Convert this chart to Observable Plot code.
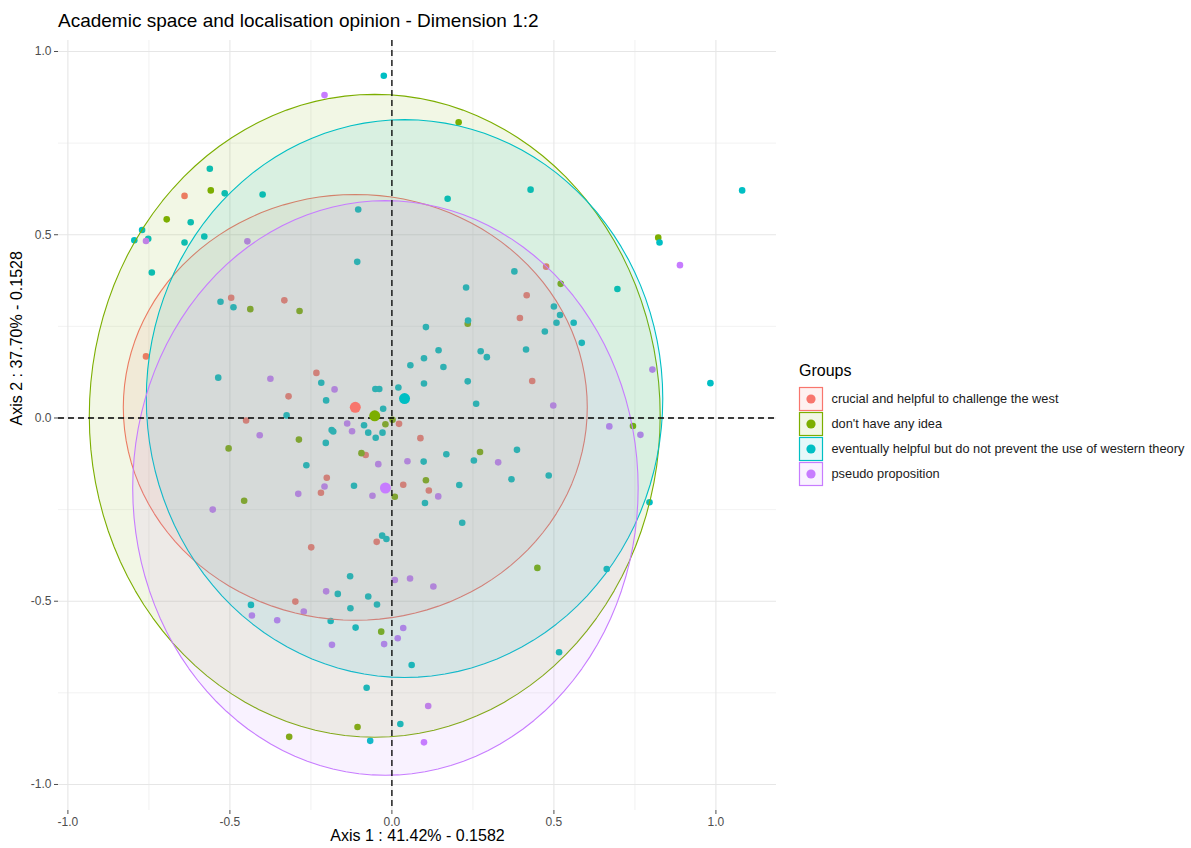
<!DOCTYPE html>
<html>
<head>
<meta charset="utf-8">
<script src="https://cdn.jsdelivr.net/npm/d3@7"></script>
<script src="https://cdn.jsdelivr.net/npm/@observablehq/plot@0.6"></script>
<style>
  html, body { margin: 0; padding: 0; background: #fff; }
  #wrap { position: relative; width: 1191px; height: 848px; overflow: hidden; font-family: "Liberation Sans", Arial, sans-serif; }
  #title { position: absolute; left: 58px; top: 10px; font-size: 19px; color: #000; white-space: nowrap; }
  #chart { position: absolute; left: 0; top: 34px; }
  #legend { position: absolute; left: 790px; top: 350px; }
</style>
</head>
<body>
<div id="wrap">
  <div id="title">Academic space and localisation opinion - Dimension 1:2</div>
  <div id="chart"></div>
  <div id="legend"></div>
</div>
<script>
// ---- data ----
const groups = [
  "crucial and helpful to challenge the west",
  "don't have any idea",
  "eventually helpful but do not prevent the use of western theory",
  "pseudo proposition"
];
const colors = ["#F8766D", "#7CAE00", "#00BFC4", "#C77CFF"];

const crucialPts = [
  [-0.640,0.606],[-0.496,0.328],[-0.332,0.321],[-0.759,0.168],[-0.233,0.123],
  [-0.319,0.059],[-0.450,-0.007],[0.022,-0.016],[-0.081,-0.101],[0.088,-0.055],
  [-0.201,-0.163],[-0.219,-0.204],[0.035,-0.182],[0.114,-0.198],[0.476,0.413],
  [0.416,0.335],[0.395,0.273],[0.433,0.101],[-0.047,-0.338],[-0.249,-0.353],
  [-0.298,-0.501]
];
const noIdeaPts = [
  [-0.559,0.621],[-0.695,0.542],[0.206,0.807],[0.822,0.492],[0.521,0.366],
  [-0.437,0.297],[-0.285,0.292],[0.234,0.257],[-0.020,-0.017],[0.002,-0.005],
  [-0.287,-0.059],[-0.504,-0.083],[-0.094,-0.096],[0.009,-0.215],[-0.456,-0.226],
  [0.744,-0.022],[0.272,-0.093],[0.105,-0.170],[-0.033,-0.583],[0.449,-0.409],
  [-0.106,-0.843],[-0.317,-0.870]
];
const eventuallyPts = [
  [-0.025,0.934],[-0.562,0.680],[-0.516,0.613],[-0.399,0.610],[-0.104,0.569],
  [-0.621,0.534],[-0.771,0.513],[-0.795,0.485],[-0.752,0.489],[-0.640,0.479],
  [-0.579,0.495],[-0.107,0.426],[-0.741,0.397],[0.172,0.598],[0.428,0.623],
  [1.081,0.621],[0.826,0.479],[0.378,0.400],[0.229,0.356],[0.696,0.352],
  [-0.529,0.317],[-0.489,0.302],[-0.536,0.110],[-0.218,0.096],[-0.203,0.048],
  [0.057,0.144],[-0.051,0.079],[-0.039,0.079],[0.020,0.083],[-0.027,0.025],
  [-0.325,0.007],[-0.086,-0.020],[-0.186,-0.033],[-0.181,-0.037],[-0.073,-0.040],
  [-0.029,-0.040],[-0.050,-0.054],[-0.204,-0.068],[-0.264,-0.129],[-0.117,-0.185],
  [-0.030,-0.321],[-0.017,-0.330],[0.500,0.304],[0.519,0.281],[0.508,0.260],
  [0.561,0.260],[0.235,0.266],[0.472,0.236],[0.586,0.205],[0.105,0.248],
  [0.144,0.185],[0.274,0.182],[0.293,0.166],[0.414,0.187],[0.099,0.163],
  [0.159,0.139],[0.234,0.100],[0.099,0.094],[0.260,0.039],[0.983,0.095],
  [0.168,-0.099],[0.386,-0.087],[0.098,-0.119],[0.253,-0.116],[0.369,-0.167],
  [0.484,-0.157],[0.208,-0.183],[0.102,-0.232],[0.217,-0.286],[0.795,-0.230],
  [-0.129,-0.432],[-0.167,-0.480],[-0.073,-0.487],[-0.435,-0.510],[-0.046,-0.509],
  [-0.128,-0.519],[-0.189,-0.554],[-0.112,-0.572],[0.061,-0.674],[-0.078,-0.736],
  [0.026,-0.835],[-0.067,-0.881],[0.663,-0.412],[0.516,-0.639]
];
const pseudoPts = [
  [-0.208,0.881],[-0.759,0.483],[-0.446,0.482],[0.889,0.417],[-0.375,0.107],
  [-0.177,0.078],[-0.138,-0.015],[-0.123,-0.036],[-0.408,-0.047],[-0.042,-0.126],
  [0.048,-0.118],[-0.208,-0.187],[-0.289,-0.207],[-0.060,-0.212],[-0.553,-0.250],
  [0.498,0.034],[0.804,0.132],[0.671,-0.023],[0.767,-0.046],[0.328,-0.121],
  [0.143,-0.214],[0.009,-0.442],[0.056,-0.438],[-0.203,-0.473],[-0.272,-0.528],
  [-0.432,-0.539],[-0.354,-0.552],[0.035,-0.573],[0.018,-0.601],[-0.185,-0.619],
  [-0.024,-0.617],[0.128,-0.460],[0.112,-0.786],[0.099,-0.885]
];

const centroidX = [-0.113, -0.053, 0.039, -0.020];
const centroidY = [0.029, 0.006, 0.053, -0.191];
const ellipseRx = [0.716, 0.881, 0.797, 0.780];
const ellipseRy = [0.581, 0.877, 0.761, 0.784];

const majorTicks = [-1, -0.5, 0, 0.5, 1];
const minorTicks = [-0.75, -0.25, 0.25, 0.75];
const xTitle = "Axis 1 : 41.42% - 0.1582";
const yTitle = "Axis 2 : 37.70% - 0.1528";

// ---- build tables ----
const groupPts = [crucialPts, noIdeaPts, eventuallyPts, pseudoPts];
const points = groupPts.flatMap((arr, i) => arr.map(([x, y]) => ({x, y, group: groups[i]})));
const centroids = groups.map((g, i) => ({x: centroidX[i], y: centroidY[i], group: g}));
function ellipsePath(i) {
  return d3.range(0, 121).map(k => {
    const t = 2 * Math.PI * k / 120;
    return {x: centroidX[i] + ellipseRx[i] * Math.cos(t), y: centroidY[i] + ellipseRy[i] * Math.sin(t)};
  });
}
const fmt = d => d.toFixed(1);
const font = '"Liberation Sans", Arial, sans-serif';

const chart = Plot.plot({
  width: 780,
  height: 814,
  marginLeft: 58,
  marginRight: 4,
  marginTop: 6,
  marginBottom: 38,
  style: {fontFamily: font, fontSize: "12px", color: "#4d4d4d", background: "transparent"},
  x: {domain: [-1.029, 1.187], ticks: majorTicks, tickFormat: fmt, tickSize: 4, tickPadding: 2.5, label: null},
  y: {domain: [-1.071, 1.03], ticks: majorTicks, tickFormat: fmt, tickSize: 4, tickPadding: 3, label: null},
  color: {domain: groups, range: colors},
  marks: [
    Plot.ruleX(minorTicks, {stroke: "#efefef", strokeWidth: 0.8}),
    Plot.ruleY(minorTicks, {stroke: "#efefef", strokeWidth: 0.8}),
    Plot.ruleX(majorTicks, {stroke: "#e6e6e6", strokeWidth: 1.1}),
    Plot.ruleY(majorTicks, {stroke: "#e6e6e6", strokeWidth: 1.1}),
    Plot.dot(points, {x: "x", y: "y", fill: "group", r: 3.3}),
    ...groups.map((g, i) => Plot.line(ellipsePath(i), {
      x: "x", y: "y", stroke: colors[i], fill: colors[i], fillOpacity: 0.1, strokeWidth: 1.1
    })),
    Plot.ruleX([0], {stroke: "#000", strokeWidth: 1.3, strokeDasharray: "6,4"}),
    Plot.ruleY([0], {stroke: "#000", strokeWidth: 1.3, strokeDasharray: "6,4"}),
    Plot.dot(centroids, {x: "x", y: "y", fill: "group", r: 5.5}),
    Plot.text([xTitle], {frameAnchor: "bottom", dy: 30.5, fontSize: 16, fill: "#000"}),
    Plot.text([yTitle], {frameAnchor: "left", dx: -42, rotate: -90, fontSize: 16, fill: "#000"})
  ]
});
document.getElementById("chart").appendChild(chart);

// ---- legend ----
const lg = d3.select("#legend").append("svg")
  .attr("width", 401).attr("height", 150)
  .style("font-family", font);
lg.append("text").attr("x", 9).attr("y", 25.7).attr("font-size", 16).attr("fill", "#000").text("Groups");
groups.forEach((g, i) => {
  const y0 = 37 + i * 25;
  lg.append("rect").attr("x", 9.5).attr("y", y0 + 0.5).attr("width", 23).attr("height", 23)
    .attr("fill", colors[i]).attr("fill-opacity", 0.1).attr("stroke", colors[i]).attr("stroke-width", 1.2);
  lg.append("circle").attr("cx", 21).attr("cy", y0 + 12).attr("r", 4.6).attr("fill", colors[i]);
  lg.append("text").attr("x", 41.5).attr("y", y0 + 12).attr("dy", "0.35em")
    .attr("font-size", 12.8).attr("fill", "#1a1a1a").text(g);
});
</script>
</body>
</html>
